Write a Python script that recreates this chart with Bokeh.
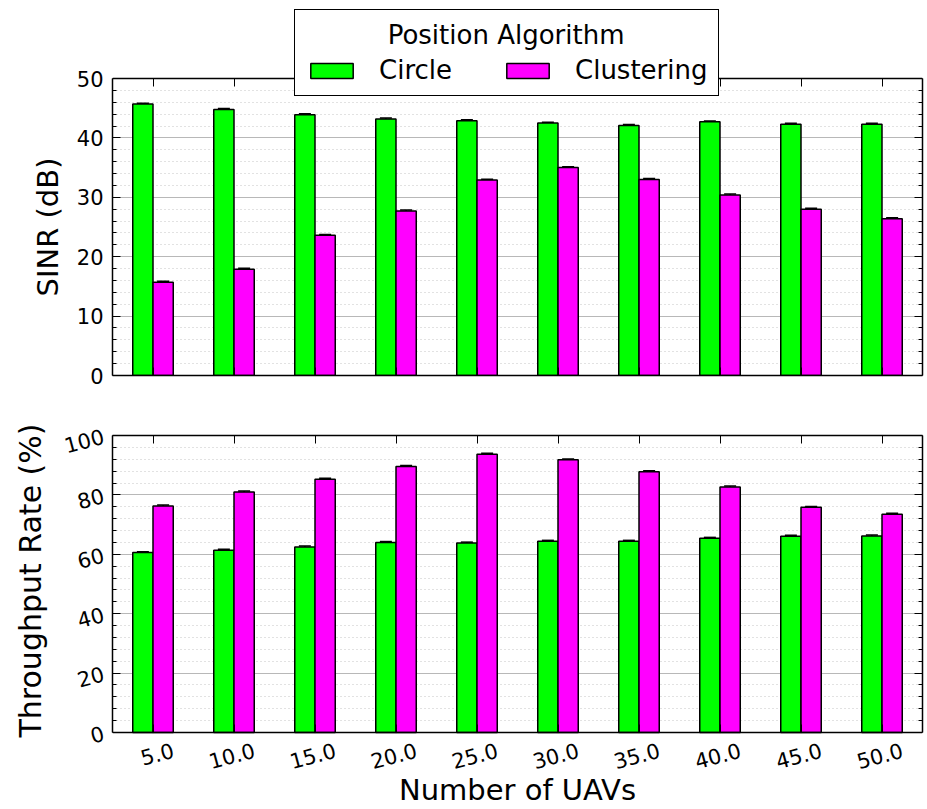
import math
from bokeh.plotting import figure
from bokeh.models import (ColumnDataSource, FixedTicker, LinearAxis, Range1d, Legend,
                          LegendItem, Whisker, TeeHead, Title)
from bokeh.layouts import column
from bokeh.transform import dodge
from bokeh.embed import file_html
from bokeh.resources import INLINE

# ---------------- data ----------------
uav_labels = ["5.0", "10.0", "15.0", "20.0", "25.0", "30.0", "35.0", "40.0", "45.0", "50.0"]
group_idx = [0, 1, 2, 3, 4, 5, 6, 7, 8, 9]
sinr_circle = [45.7, 44.8, 43.9, 43.2, 42.9, 42.5, 42.1, 42.7, 42.3, 42.3]
sinr_cluster = [15.7, 17.9, 23.6, 27.7, 32.9, 35.0, 33.0, 30.4, 28.0, 26.4]
sinr_circle_err = [0.15, 0.15, 0.15, 0.15, 0.15, 0.15, 0.15, 0.15, 0.15, 0.15]
sinr_cluster_err = [0.15, 0.15, 0.15, 0.15, 0.15, 0.15, 0.15, 0.15, 0.15, 0.15]
tp_circle = [60.6, 61.4, 62.5, 64.0, 63.8, 64.4, 64.4, 65.4, 66.1, 66.2]
tp_cluster = [76.3, 81.0, 85.3, 89.6, 93.7, 91.8, 87.8, 82.7, 75.8, 73.5]
tp_circle_err = [0.3, 0.3, 0.3, 0.3, 0.3, 0.3, 0.3, 0.3, 0.3, 0.3]
tp_cluster_err = [0.3, 0.3, 0.3, 0.3, 0.3, 0.3, 0.3, 0.3, 0.3, 0.3]
series_names = ["Circle", "Clustering"]
series_colors = ["#00ff00", "#ff00ff"]
legend_title = "Position Algorithm"

sinr_ticks = [0, 10, 20, 30, 40, 50]
sinr_minor = [2, 4, 6, 8, 12, 14, 16, 18, 22, 24, 26, 28, 32, 34, 36, 38, 42, 44, 46, 48]
tp_ticks = [0, 20, 40, 60, 80, 100]
tp_minor = [4, 8, 12, 16, 24, 28, 32, 36, 44, 48, 52, 56, 64, 68, 72, 76, 84, 88, 92, 96]

FONT = "DejaVu Sans"
BAR_W = 0.25
X_RANGE = (-0.5, 9.5)
LABEL_SHIFT = 0.25   # rotated tick labels are anchored at their end; shift to centre them
BOX_H = 297          # visible plot box height (px) of each panel


def style_hidden_labels(a):
    a.major_label_text_font_size = "0px"
    a.major_label_text_color = None
    a.major_label_standoff = 0
    a.axis_line_color = "black"
    a.axis_line_width = 1.5
    a.major_tick_line_color = "black"
    a.minor_tick_line_color = "black"


def set_ticks(a, maj_in, maj_out, min_in, min_out):
    a.major_tick_in = maj_in
    a.major_tick_out = maj_out
    a.minor_tick_in = min_in
    a.minor_tick_out = min_out


def style_yaxis(ya, yticks, yminor):
    ya.ticker = FixedTicker(ticks=yticks, minor_ticks=yminor)
    ya.major_label_text_font = FONT
    ya.major_label_text_font_size = "21px"
    ya.major_label_text_color = "black"
    ya.major_label_standoff = 9
    set_ticks(ya, 8, 0, 4, 0)
    ya.axis_line_color = "black"
    ya.axis_line_width = 1.5
    ya.major_tick_line_color = "black"
    ya.minor_tick_line_color = "black"


def style_grid(p, yticks, yminor):
    p.xgrid.visible = False
    p.ygrid.ticker = FixedTicker(ticks=yticks, minor_ticks=yminor)
    p.ygrid.grid_line_color = "#b8b8b8"
    p.ygrid.grid_line_width = 1
    p.ygrid.minor_grid_line_color = "#c4c4c4"
    p.ygrid.minor_grid_line_dash = "1 3"
    p.ygrid.minor_grid_line_width = 1


def add_bars(p, vals_a, err_a, vals_b, err_b):
    src = ColumnDataSource(dict(
        x=group_idx, a=vals_a, b=vals_b,
        a_up=[v + e for v, e in zip(vals_a, err_a)], a_lo=[v - e for v, e in zip(vals_a, err_a)],
        b_up=[v + e for v, e in zip(vals_b, err_b)], b_lo=[v - e for v, e in zip(vals_b, err_b)],
    ))
    r1 = p.vbar(x=dodge("x", -BAR_W / 2, range=p.x_range), top="a", width=BAR_W, source=src,
                fill_color=series_colors[0], line_color="black", line_width=1.5)
    r2 = p.vbar(x=dodge("x", BAR_W / 2, range=p.x_range), top="b", width=BAR_W, source=src,
                fill_color=series_colors[1], line_color="black", line_width=1.5)
    for off, up, lo in ((-BAR_W / 2, "a_up", "a_lo"), (BAR_W / 2, "b_up", "b_lo")):
        w = Whisker(base=dodge("x", off, range=p.x_range), upper=up, lower=lo, source=src,
                    line_color="black", line_width=1.5,
                    upper_head=TeeHead(size=12, line_color="black", line_width=1.5),
                    lower_head=TeeHead(size=12, line_color="black", line_width=1.5))
        p.add_layout(w)
    return r1, r2


# ---------------- top: SINR ----------------
# frame spans the full height above the box so the legend (which overlaps the box top) is not clipped
TOP_EXT_PX = 78        # space above the box that belongs to the frame
sinr_max = 50
p1 = figure(width=927, height=405, output_backend="svg", toolbar_location=None,
            x_range=Range1d(*X_RANGE),
            y_range=Range1d(0, sinr_max * (BOX_H + TOP_EXT_PX) / BOX_H),
            min_border_left=111, min_border_right=5, min_border_top=0, min_border_bottom=30)
p1.outline_line_color = None
p1.background_fill_color = "white"
p1.border_fill_color = "white"
style_grid(p1, sinr_ticks, sinr_minor)
style_yaxis(p1.left[0], sinr_ticks, sinr_minor)
p1.left[0].bounds = (0, sinr_max)

# y-axis title positioned along the visible box (not the taller frame)
p1.add_layout(Title(text="SINR (dB)", align="left", offset=79, standoff=18,
                    text_font=FONT, text_font_size="29px", text_font_style="normal",
                    text_color="black"), "left")

ra1 = LinearAxis(ticker=FixedTicker(ticks=sinr_ticks, minor_ticks=sinr_minor), bounds=(0, sinr_max))
style_hidden_labels(ra1)
set_ticks(ra1, 8, 0, 4, 0)
p1.add_layout(ra1, "right")

# top edge of the box (at y = 50), ticks pointing down into the box
tx1 = p1.below[0]
tx1.ticker = FixedTicker(ticks=group_idx, minor_ticks=[])
tx1.fixed_location = sinr_max
style_hidden_labels(tx1)
set_ticks(tx1, 0, 8, 0, 0)

# bottom edge of the box
bx1 = LinearAxis(ticker=FixedTicker(ticks=group_idx, minor_ticks=[]))
style_hidden_labels(bx1)
set_ticks(bx1, 8, 0, 0, 0)
p1.add_layout(bx1, "below")

r1, r2 = add_bars(p1, sinr_circle, sinr_circle_err, sinr_cluster, sinr_cluster_err)

legend = Legend(items=[LegendItem(label=series_names[0], renderers=[r1]),
                       LegendItem(label=series_names[1], renderers=[r2])],
                title="\u00a0" * 10 + legend_title,
                title_text_font=FONT, title_text_font_size="26px",
                title_text_font_style="normal", title_text_color="black",
                title_standoff=5,
                orientation="horizontal", location=(182, 279),
                glyph_width=53, glyph_height=19, label_standoff=21, spacing=49,
                padding=10, margin=0, label_text_font=FONT, label_text_font_size="26px",
                label_text_color="black",
                border_line_color="black", border_line_width=1.5, border_line_alpha=1.0,
                background_fill_color="white", background_fill_alpha=1.0)
p1.add_layout(legend)

# ---------------- bottom: Throughput ----------------
# frame extends to the canvas bottom so the x tick labels / title (drawn by a fixed axis) are not clipped
BOT_EXT_PX = 77
tp_max = 100
p2 = figure(width=927, height=404, output_backend="svg", toolbar_location=None,
            x_range=Range1d(*X_RANGE),
            y_range=Range1d(-tp_max * BOT_EXT_PX / BOX_H, tp_max),
            min_border_left=111, min_border_right=5, min_border_top=30, min_border_bottom=0)
p2.extra_x_ranges = {"labels": Range1d(X_RANGE[0] - LABEL_SHIFT, X_RANGE[1] - LABEL_SHIFT)}
p2.outline_line_color = None
p2.background_fill_color = "white"
p2.border_fill_color = "white"
style_grid(p2, tp_ticks, tp_minor)
ya2 = p2.left[0]
style_yaxis(ya2, tp_ticks, tp_minor)
ya2.bounds = (0, tp_max)
ya2.major_label_orientation = math.radians(15)

p2.add_layout(Title(text="Throughput Rate (%)", align="left", offset=72, standoff=20,
                    text_font=FONT, text_font_size="30px", text_font_style="normal",
                    text_color="black"), "left")

ra2 = LinearAxis(ticker=FixedTicker(ticks=tp_ticks, minor_ticks=tp_minor), bounds=(0, tp_max))
style_hidden_labels(ra2)
set_ticks(ra2, 8, 0, 4, 0)
p2.add_layout(ra2, "right")

ta2 = LinearAxis(ticker=FixedTicker(ticks=group_idx, minor_ticks=[]))
style_hidden_labels(ta2)
set_ticks(ta2, 8, 0, 0, 0)
p2.add_layout(ta2, "above")

add_bars(p2, tp_circle, tp_circle_err, tp_cluster, tp_cluster_err)

# bottom edge of the box with tick marks at the group centres
bt2 = p2.below[0]
bt2.ticker = FixedTicker(ticks=group_idx, minor_ticks=[])
style_hidden_labels(bt2)
set_ticks(bt2, 8, 0, 0, 0)
bt2.fixed_location = 0

# labelled x axis (labels centred under the groups via a shifted range)
xa = LinearAxis(x_range_name="labels", ticker=FixedTicker(ticks=group_idx, minor_ticks=[]))
xa.fixed_location = 0
xa.major_label_overrides = {i: lab for i, lab in zip(group_idx, uav_labels)}
xa.major_label_orientation = math.radians(15)
xa.major_label_text_font = FONT
xa.major_label_text_font_size = "21px"
xa.major_label_text_color = "black"
xa.major_label_standoff = 11
xa.major_tick_line_color = None
xa.minor_tick_line_color = None
xa.axis_line_color = None
xa.axis_label = "Number of UAVs"
xa.axis_label_text_font = FONT
xa.axis_label_text_font_size = "29px"
xa.axis_label_text_font_style = "normal"
xa.axis_label_text_color = "black"
xa.axis_label_standoff = -7
p2.add_layout(xa, "below")

layout = column(p1, p2, spacing=0)
open("out.html", "w").write(file_html(layout, INLINE))
